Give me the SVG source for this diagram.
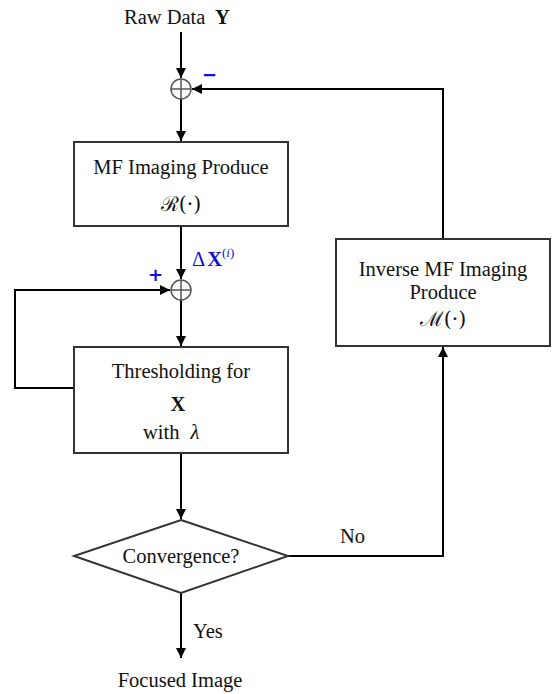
<svg xmlns="http://www.w3.org/2000/svg" width="560" height="694" viewBox="0 0 560 694">
<defs>
<marker id="ah" viewBox="0 0 10 10" refX="10" refY="5" markerWidth="10" markerHeight="10" markerUnits="userSpaceOnUse" orient="auto">
<path d="M0,0 L10,5 L0,10 Z" fill="#000"/>
</marker>
</defs>
<style>
text{font-family:"Liberation Serif","Times New Roman",serif;font-size:20.5px;fill:#111}
.c{text-anchor:middle}
.box{fill:#fff;stroke:#333;stroke-width:2}
.sum{fill:none;stroke:#555;stroke-width:1.5}
.ln{fill:none;stroke:#000;stroke-width:2}
.blue{fill:#1010e0}
</style>
<rect width="560" height="694" fill="#fff"/>
<g id="edges">
<path class="ln" d="M181,32 V78" marker-end="url(#ah)"/>
<path class="ln" d="M443,239 V89 H192" marker-end="url(#ah)"/>
<path class="ln" d="M181,99 V141" marker-end="url(#ah)"/>
<path class="ln" d="M181,226 V279" marker-end="url(#ah)"/>
<path class="ln" d="M74,388 H15 V290 H170" marker-end="url(#ah)"/>
<path class="ln" d="M181,300 V346" marker-end="url(#ah)"/>
<path class="ln" d="M181,453 V519" marker-end="url(#ah)"/>
<path class="ln" d="M288,556 H443 V347" marker-end="url(#ah)"/>
<path class="ln" d="M181,593 V658" marker-end="url(#ah)"/>
<text x="340" y="543">No</text>
<text x="193" y="638">Yes</text>
<text x="202" y="81" class="blue" style="font-family:'DejaVu Sans',sans-serif;font-size:18px;font-weight:bold">−</text>
<text x="148" y="281" class="blue" style="font-family:'DejaVu Sans',sans-serif;font-size:18px;font-weight:bold">+</text>
<text x="192" y="266" class="blue">Δ<tspan font-weight="bold" dx="2">X</tspan><tspan font-size="13" dy="-9">(<tspan font-style="italic">i</tspan>)</tspan></text>
</g>
<g id="input">
<text x="124" y="24">Raw Data</text>
<text x="215" y="24" font-weight="bold" font-size="22">Y</text>
</g>
<g id="sum1">
<circle class="sum" cx="181" cy="89" r="10"/>
<path class="sum" d="M171,89 H191 M181,79 V99"/>
</g>
<g id="mf">
<rect class="box" x="74" y="142" width="214" height="84"/>
<text class="c" x="181" y="174">MF Imaging Produce</text>
<text class="c" x="181" y="211" style="font-family:'DejaVu Serif','Liberation Serif',serif">ℛ(·)</text>
</g>
<g id="sum2">
<circle class="sum" cx="181" cy="290" r="10"/>
<path class="sum" d="M171,290 H191 M181,280 V300"/>
</g>
<g id="thresh">
<rect class="box" x="74" y="347" width="214" height="106"/>
<text class="c" x="181" y="378">Thresholding for</text>
<text class="c" x="178" y="411" font-weight="bold">X</text>
<text x="143" y="439">with <tspan font-style="italic" dx="6">λ</tspan></text>
</g>
<g id="inverse">
<rect class="box" x="336" y="239" width="214" height="107"/>
<text class="c" x="443" y="276">Inverse MF Imaging</text>
<text class="c" x="443" y="299">Produce</text>
<text class="c" x="443" y="326" style="font-family:'DejaVu Serif','Liberation Serif',serif">ℳ(·)</text>
</g>
<g id="conv">
<path class="box" d="M181,520 L288,556 L181,593 L74,556 Z"/>
<text class="c" x="181" y="563">Convergence?</text>
</g>
<g id="output">
<text class="c" x="180" y="687">Focused Image</text>
</g>
</svg>
